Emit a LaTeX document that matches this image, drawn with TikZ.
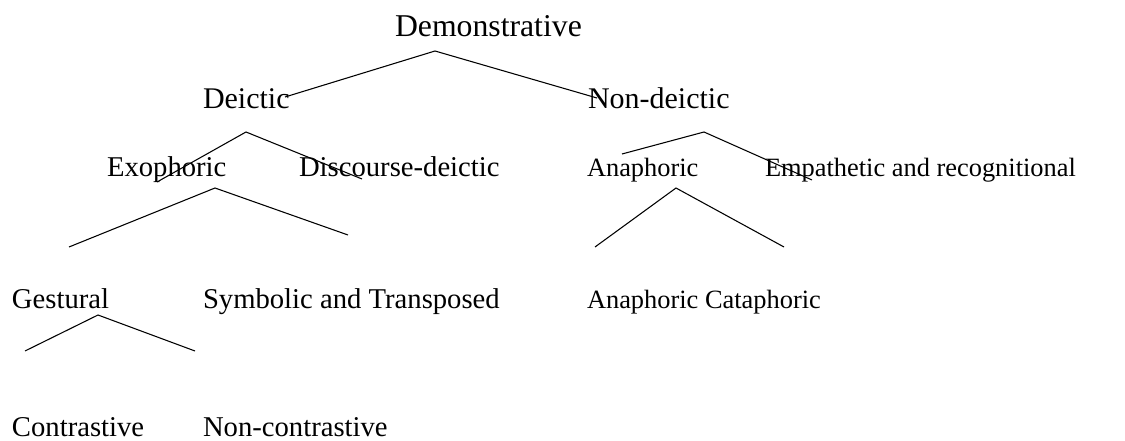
\documentclass[tikz,border=0pt]{standalone}
\usepackage{fontspec}
\setmainfont{Liberation Serif}
\newcommand{\fs}[1]{\fontsize{#1pt}{1.15\dimexpr#1pt\relax}\selectfont}
\begin{document}
\begin{tikzpicture}[x=0.75pt,y=-0.75pt,
  label/.style={anchor=base west,inner sep=0pt,outer sep=0pt,font=\fs{21.5}},
  toplabel/.style={label,font=\fs{23.8}},
  midlabel/.style={label,font=\fs{22.5}},
  rightlabel/.style={label,font=\fs{19.8}},
  branch/.style={line width=0.8pt}]
\useasboundingbox (0,0) rectangle (1125,441);

% category labels
\node[toplabel]   (dem)  at (395,37)  {Demonstrative};
\node[midlabel]   (dei)  at (203,109) {Deictic};
\node[midlabel]   (ndei) at (588,109) {Non-deictic};
\node[label]      (exo)  at (107,177) {Exophoric};
\node[label]      (disc) at (299,177) {Discourse-deictic};
\node[rightlabel] (ana)  at (587,177) {Anaphoric};
\node[rightlabel] (emp)  at (765,177) {Empathetic and recognitional};
\node[label]      (ges)  at (12,309)  {Gestural};
\node[label]      (sym)  at (203,309) {Symbolic and Transposed};
\node[rightlabel] (anc)  at (587,309) {Anaphoric Cataphoric};
\node[label]      (con)  at (12,437)  {Contrastive};
\node[label]      (ncon) at (203,437) {Non-contrastive};

% branch points
\coordinate (a1) at (435,51);  \coordinate (a1l) at (285,97);  \coordinate (a1r) at (597,98);
\coordinate (a2) at (246,132); \coordinate (a2l) at (157,182); \coordinate (a2r) at (362,179);
\coordinate (a3) at (215,188); \coordinate (a3l) at (69,247);  \coordinate (a3r) at (348,235);
\coordinate (a4) at (704,132); \coordinate (a4l) at (622,154); \coordinate (a4r) at (812,180);
\coordinate (a5) at (676,188); \coordinate (a5l) at (595,247); \coordinate (a5r) at (784,247);
\coordinate (a6) at (98,315);  \coordinate (a6l) at (25,351);  \coordinate (a6r) at (195,351);

\foreach \n in {a1,a2,a3,a4,a5,a6}
  \draw[branch] (\n l) -- (\n) -- (\n r);
\end{tikzpicture}
\end{document}
